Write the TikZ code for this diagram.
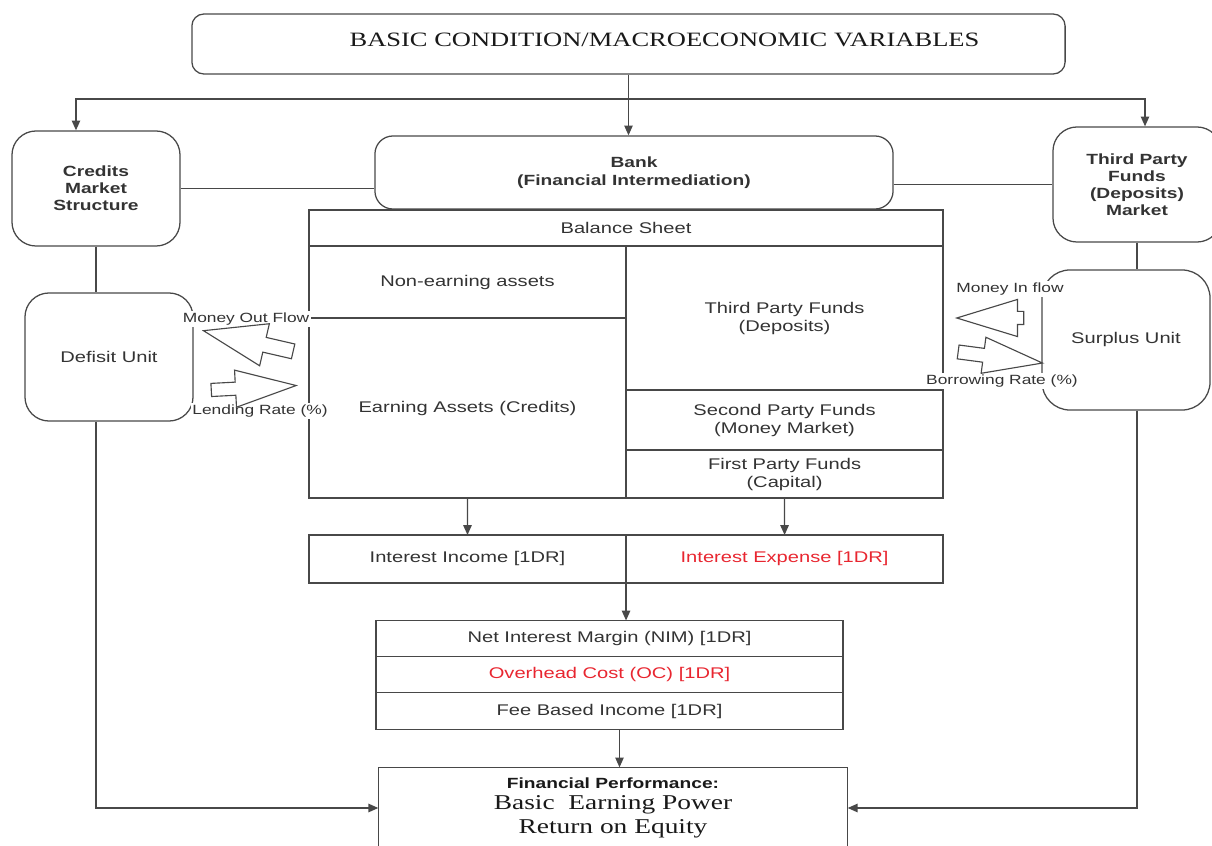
\documentclass[tikz,border=0pt]{standalone}
\usepackage{fontspec}
\setmainfont{Liberation Sans}[FakeStretch=1.3]
\newfontfamily\serifwide{Liberation Serif}[FakeStretch=1.3]
\usepackage{xcolor}
\usetikzlibrary{positioning,calc,shapes.arrows,arrows.meta}

\definecolor{expred}{RGB}{232,38,48}
\definecolor{linegray}{RGB}{72,72,72}

\begin{document}
\begin{tikzpicture}[x=0.025cm,y=-0.025cm,color=linegray,text=black!80,line width=0.9pt,
  rbox/.style={draw, rounded corners=#1, align=center, inner sep=0pt},
  rbox/.default={0.6cm},
  cell/.style={draw, align=center, inner sep=0pt, outer sep=0pt, font=\fontsize{11}{12.8}\selectfont},
  flow/.style={-{Triangle[length=7pt,width=6pt]}},
  blockarrow/.style={single arrow, draw, fill=white, line width=0.8pt, inner xsep=0pt, single arrow head indent=0pt},
  tag/.style={fill=white, inner sep=1pt, font=\fontsize{9.5}{11}\selectfont}]

\useasboundingbox (0,0) rectangle (1212,846);

%top row
\node[rbox=0.3cm, minimum width=21.825cm, minimum height=1.5cm, text=black!90,
  font=\serifwide\fontsize{14.5}{17}\selectfont] (macro) at (628.5,44) {\hspace*{1.8cm}BASIC CONDITION/MACROECONOMIC VARIABLES\rule[-6pt]{0pt}{0pt}};

\node[rbox, minimum width=4.2cm, minimum height=2.875cm, font=\bfseries\fontsize{10.5}{12.2}\selectfont]
  (credits) at (96,188.5) {Credits\\Market\\Structure};
\node[rbox=0.45cm, minimum width=12.95cm, minimum height=1.825cm, font=\bfseries\fontsize{10.5}{12.8}\selectfont]
  (bank) at (634,172.5) {Bank\\(Financial Intermediation)};
\node[rbox, minimum width=4.2cm, minimum height=2.875cm, font=\bfseries\fontsize{10.5}{12.1}\selectfont]
  (tpf) at (1137,184.5) {Third Party\\Funds\\(Deposits)\\Market};

\node[rbox, minimum width=4.2cm, minimum height=3.2cm, font=\fontsize{11}{13}\selectfont]
  (defisit) at (109,357) {Defisit Unit};
\node[rbox=0.7cm, minimum width=4.2cm, minimum height=3.5cm, font=\fontsize{11}{13}\selectfont]
  (surplus) at (1126,340) {Surplus Unit};

%balance sheet
\node[cell, minimum width=15.85cm, minimum height=0.9cm] (bshead) at (626,228) {Balance Sheet};
\node[cell, minimum width=7.925cm, minimum height=1.8cm, below right=0pt of bshead.south west] (nonearn) {Non-earning assets};
\node[cell, minimum width=7.925cm, minimum height=4.5cm, below=0pt of nonearn] (earn) {Earning Assets (Credits)};
\node[cell, minimum width=7.925cm, minimum height=3.6cm, below left=0pt of bshead.south east] (tpfund) {Third Party Funds\\(Deposits)};
\node[cell, minimum width=7.925cm, minimum height=1.5cm, below=0pt of tpfund] (spfund) {Second Party Funds\\(Money Market)};
\node[cell, minimum width=7.925cm, minimum height=1.2cm, below=0pt of spfund] (fpfund) {First Party Funds\\(Capital)};

%income statement
\node[cell, minimum width=7.925cm, minimum height=1.2cm] (inc) at (467.5,559) {Interest Income [1DR]};
\node[cell, minimum width=7.925cm, minimum height=1.2cm, right=0pt of inc, text=expred] (exp) {Interest Expense [1DR]};

\node[cell, minimum width=11.675cm, minimum height=0.9cm] (nim) at (609.5,638.5) {Net Interest Margin (NIM) [1DR]};
\node[cell, minimum width=11.675cm, minimum height=0.9cm, below=0pt of nim, text=expred] (oc) {Overhead Cost (OC) [1DR]};
\node[cell, minimum width=11.675cm, minimum height=0.925cm, below=0pt of oc] (fee) {Fee Based Income [1DR]};

\node[minimum width=11.7cm, minimum height=2cm, align=center, inner sep=0pt, text=black!90,
  font=\serifwide\fontsize{15}{17}\selectfont] (perf) at (613,808)
  {{\normalfont\bfseries\fontsize{10.5}{12}\selectfont Financial Performance:}\\[-2pt]
   Basic\ \ Earning Power\\Return on Equity};
\draw (perf.south west) |- (perf.north east) -- (perf.south east);

%connectors
\coordinate (split) at (macro.south |- 0,99);
\draw[flow] (macro.south) -- (macro.south |- bank.north);
\draw[flow] (split) -| ([xshift=-0.5cm]credits.north);
\draw[flow] (split) -| ([xshift=0.2cm]tpf.north);
\draw (credits.east) -- (credits.east -| bank.west);
\draw (tpf.west -| bank.east) -- (tpf.west);
\draw (credits.south) -- (credits.south |- defisit.north);
\draw[flow] (credits.south |- defisit.south) |- (perf.west);
\draw (tpf.south) -- (tpf.south |- surplus.north);
\draw[flow] (tpf.south |- surplus.south) |- (perf.east);
\draw[flow] (earn.south) -- (inc.north);
\draw[flow] (fpfund.south) -- (exp.north);
\draw[flow] (inc.north east) -- (inc.north east |- nim.north);
\draw[flow] ([xshift=0.25cm]fee.south) -- ([xshift=0.25cm]fee.south |- perf.north);

%money flows
\node[tag] (outlbl) at (246,319) {Money Out Flow};
\node[tag] (lendlbl) at (260,411) {Lending Rate (\%)};
\node[tag] (inlbl) at (1010,289) {Money In flow};
\node[tag] (borrlbl) at (1002,381) {Borrowing Rate (\%)};

\node[blockarrow, minimum height=2.3cm, inner ysep=0.175cm, single arrow head extend=0.35cm,
  single arrow tip angle=38, rotate=167] (outarrow) at (259,343.5) {};
\node[blockarrow, minimum height=2.125cm, inner ysep=0.15cm, single arrow head extend=0.3cm,
  single arrow tip angle=34, rotate=3] (lendarrow) at (243,388.3) {};
\node[blockarrow, minimum height=1.675cm, inner ysep=0.15cm, single arrow head extend=0.3cm,
  single arrow tip angle=34, rotate=180] (inarrow) at (1001,318) {};
\node[blockarrow, minimum height=2.125cm, inner ysep=0.16cm, single arrow head extend=0.28cm,
  single arrow tip angle=34, rotate=-7.5] (borrarrow) at (989,356) {};

\end{tikzpicture}
\end{document}
